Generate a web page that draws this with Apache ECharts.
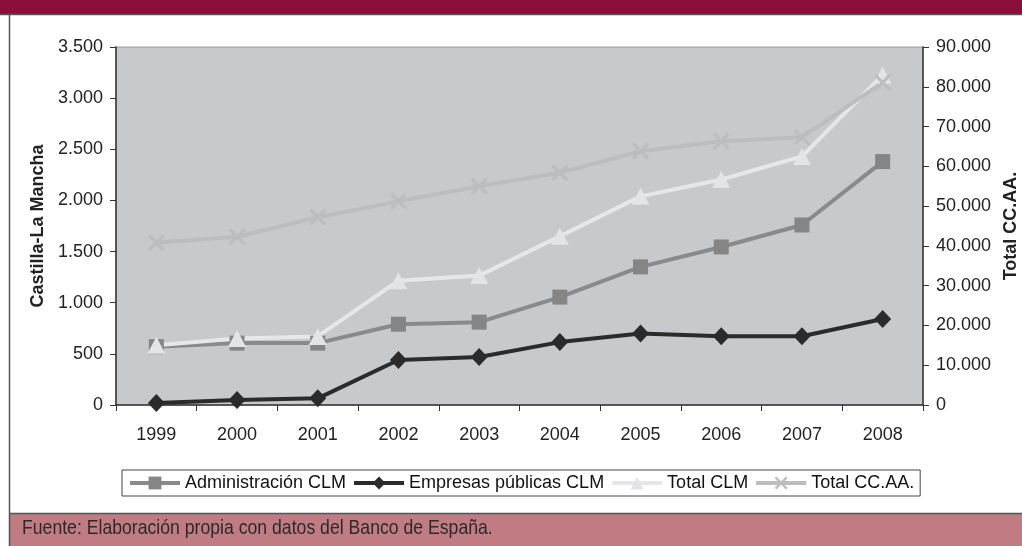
<!DOCTYPE html>
<html>
<head>
<meta charset="utf-8">
<script src="https://cdn.jsdelivr.net/npm/echarts@6/dist/echarts.min.js"></script>
<style>
html,body{margin:0;padding:0;background:#fff;}
#c{width:1022px;height:546px;}
</style>
</head>
<body>
<div id="c"></div>
<script>
const years = ['1999','2000','2001','2002','2003','2004','2005','2006','2007','2008'];
const adminCLM = [570, 605, 605, 790, 810, 1055, 1350, 1545, 1760, 2380];
const empresasCLM = [20, 48, 65, 440, 470, 615, 700, 672, 672, 840];
const totalCLM = [585, 650, 670, 1215, 1265, 1650, 2040, 2205, 2430, 3225];
const totalCCAA = [40800, 42300, 47200, 51200, 55000, 58400, 63800, 66300, 67300, 81100];
const seriesNames = ['Administración CLM','Empresas públicas CLM','Total CLM','Total CC.AA.'];
const leftAxisName = 'Castilla-La Mancha';
const rightAxisName = 'Total CC.AA.';
const sourceText = 'Fuente: Elaboración propia con datos del Banco de España.';

const FONT = "'Liberation Sans', Arial, sans-serif";
const fmt = v => String(v).replace(/\B(?=(\d{3})+(?!\d))/g, '.');
const crossPath = 'path://M0,1.3L1.3,0L5,3.7L8.7,0L10,1.3L6.3,5L10,8.7L8.7,10L5,6.3L1.3,10L0,8.7L3.7,5Z';

const chart = echarts.init(document.getElementById('c'), null, {renderer:'canvas'});
chart.setOption({
  animation:false,
  backgroundColor:'#ffffff',
  textStyle:{fontFamily:FONT},
  graphic:[
    {type:'rect', shape:{x:0,y:0,width:1022,height:14}, style:{fill:'#8b0e3b'}, z:-1},
    {type:'line', shape:{x1:0,y1:14.5,x2:1022,y2:14.5}, style:{stroke:'#555',lineWidth:1.5}},
    {type:'line', shape:{x1:9.5,y1:14,x2:9.5,y2:546}, style:{stroke:'#555',lineWidth:1.5}},
    {type:'rect', shape:{x:10,y:514,width:1012,height:32}, style:{fill:'#c17b82'}, z:-1},
    {type:'line', shape:{x1:9,y1:513.5,x2:1022,y2:513.5}, style:{stroke:'#555',lineWidth:1.5}},
    {type:'text', left:22, top:518, scaleX:0.84, originX:22,
      style:{text:sourceText, font:"21px 'Liberation Sans', Arial, sans-serif", fill:'#2a2a2a'}}
  ],
  legend:{
    left:122, top:470,
    padding:[4,6],
    itemGap:6,
    itemWidth:50,
    itemHeight:16,
    borderColor:'#444', borderWidth:1,
    backgroundColor:'#fff',
    lineStyle:{width:4},
    textStyle:{fontSize:18, color:'#111', fontFamily:FONT},
    data:seriesNames
  },
  grid:{left:116, right:99, top:47, bottom:141, outerBoundsMode:'none', containLabel:false,
        show:true, backgroundColor:'#c8c9cb', borderColor:'#9a9a9a', borderWidth:1},
  xAxis:{
    type:'category', data:years, boundaryGap:true,
    axisLine:{lineStyle:{color:'#333', width:1.5}},
    axisTick:{show:true, length:6, lineStyle:{color:'#333'}},
    axisLabel:{color:'#222', fontSize:18, margin:21}
  },
  yAxis:[
    {type:'value', min:0, max:3500, interval:500, position:'left',
     name:leftAxisName, nameLocation:'middle', nameGap:69, nameRotate:90,
     nameTextStyle:{fontSize:18, fontWeight:'bold', color:'#222'},
     axisLine:{show:true, lineStyle:{color:'#333', width:1.5}},
     axisTick:{show:true, length:6, lineStyle:{color:'#333'}},
     axisLabel:{color:'#222', fontSize:18, margin:13, formatter:fmt},
     splitLine:{show:false}},
    {type:'value', min:0, max:90000, interval:10000, position:'right',
     name:rightAxisName, nameLocation:'middle', nameGap:79, nameRotate:90,
     nameTextStyle:{fontSize:18, fontWeight:'bold', color:'#222'},
     axisLine:{show:true, lineStyle:{color:'#333', width:1.5}},
     axisTick:{show:true, length:6, lineStyle:{color:'#333'}},
     axisLabel:{color:'#222', fontSize:18, margin:13, formatter:fmt},
     splitLine:{show:false}}
  ],
  series:[
    {name:seriesNames[0], type:'line', yAxisIndex:0, data:adminCLM,
     symbol:'rect', symbolSize:15, showSymbol:true,
     lineStyle:{color:'#8a8a8a', width:4}, itemStyle:{color:'#858585'}},
    {name:seriesNames[1], type:'line', yAxisIndex:0, data:empresasCLM,
     symbol:'diamond', symbolSize:[17,18], showSymbol:true,
     lineStyle:{color:'#2b2b2b', width:4}, itemStyle:{color:'#2b2b2b'}},
    {name:seriesNames[2], type:'line', yAxisIndex:0, data:totalCLM,
     symbol:'triangle', symbolSize:[18,17], showSymbol:true,
     lineStyle:{color:'#e6e7e8', width:4}, itemStyle:{color:'#e3e4e5'}},
    {name:seriesNames[3], type:'line', yAxisIndex:1, data:totalCCAA,
     symbol:crossPath, symbolSize:17, showSymbol:true,
     lineStyle:{color:'#bcbdbf', width:4}, itemStyle:{color:'#bcbdbf'}}
  ]
});
</script>
</body>
</html>
